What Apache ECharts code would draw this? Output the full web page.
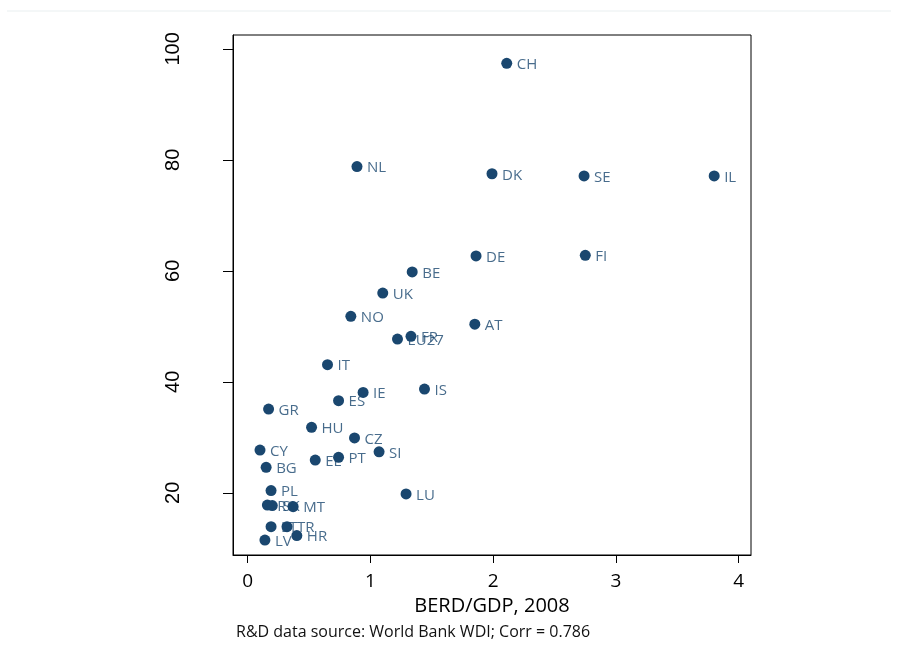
<!DOCTYPE html>
<html>
<head>
<meta charset="utf-8">
<script src="https://cdn.jsdelivr.net/npm/echarts@6/dist/echarts.min.js"></script>
<style>
  html, body { margin: 0; padding: 0; background: #fff; }
  #chart { width: 898px; height: 661px; }
</style>
</head>
<body>
<div id="chart"></div>
<script>
const NAVY = '#1a476f';

// country codes, BERD/GDP 2008 (x) and the unlabelled y value
const codes = ['CH', 'NL', 'DK', 'SE', 'IL', 'DE', 'FI', 'BE', 'UK', 'NO', 'AT', 'FR', 'EU27', 'IT', 'IE', 'IS', 'ES', 'GR',
  'HU', 'CZ', 'CY', 'SI', 'PT', 'EE', 'BG', 'PL', 'LU', 'RO', 'SK', 'MT', 'LT', 'TR', 'HR', 'LV'];
const berdGdp = [2.11, 0.89, 1.99, 2.74, 3.80, 1.86, 2.75, 1.34, 1.10, 0.84, 1.85, 1.33, 1.22, 0.65, 0.94, 1.44, 0.74, 0.17,
  0.52, 0.87, 0.10, 1.07, 0.74, 0.55, 0.15, 0.19, 1.29, 0.16, 0.20, 0.37, 0.19, 0.32, 0.40, 0.14];
const yScore = [97.4, 78.8, 77.5, 77.1, 77.1, 62.7, 62.8, 59.8, 56.0, 51.8, 50.4, 48.2, 47.7, 43.1, 38.1, 38.7, 36.6, 35.1,
  31.8, 29.9, 27.7, 27.4, 26.4, 25.9, 24.6, 20.4, 19.8, 17.8, 17.7, 17.5, 13.9, 13.9, 12.3, 11.5];

const xTicks = [0, 1, 2, 3, 4];
const yTicks = [20, 40, 60, 80, 100];

const points = codes.map((c, i) => ({ name: c, value: [berdGdp[i], yScore[i]] }));

const chart = echarts.init(document.getElementById('chart'), null, { renderer: 'canvas' });

chart.setOption({
  animation: false,
  backgroundColor: '#fff',
  grid: {
    left: 233,
    top: 35,
    right: 147,
    bottom: 106,
    show: true,
    borderColor: '#000',
    borderWidth: 1,
    backgroundColor: 'transparent',
  },
  title: {
    text: 'R&D data source: World Bank WDI; Corr = 0.786',
    left: 236,
    top: 624,
    padding: 0,
    textStyle: { fontFamily: 'Open Sans', fontSize: 16, fontWeight: 'normal', color: '#111' },
  },
  graphic: [
    {
      type: 'line',
      shape: { x1: 7, y1: 11, x2: 891, y2: 11 },
      style: { stroke: '#e9eff0', lineWidth: 1 },
      silent: true,
    },
  ],
  xAxis: {
    type: 'value',
    min: -0.12,
    max: 4.1,
    name: 'BERD/GDP, 2008',
    nameLocation: 'middle',
    nameGap: 33,
    nameTextStyle: { fontFamily: 'Open Sans', fontSize: 20, color: '#000' },
    splitLine: { show: false },
    axisLine: { show: true, onZero: false, lineStyle: { color: '#000', width: 1 } },
    axisTick: { show: true, length: 8, customValues: xTicks, lineStyle: { color: '#000' } },
    axisLabel: {
      customValues: xTicks,
      margin: 17,
      fontFamily: 'Open Sans',
      fontSize: 19,
      color: '#000',
    },
  },
  yAxis: {
    type: 'value',
    min: 8.8,
    max: 102.5,
    splitLine: { show: false },
    axisLine: { show: true, onZero: false, lineStyle: { color: '#000', width: 1 } },
    axisTick: { show: true, length: 10, customValues: yTicks, lineStyle: { color: '#000' } },
    axisLabel: {
      customValues: yTicks,
      rotate: 90,
      margin: 50,
      fontFamily: 'Liberation Sans',
      fontSize: 20,
      color: '#000',
    },
  },
  series: [
    {
      // labels underneath the markers, as in the original
      name: 'labels',
      type: 'scatter',
      z: 1,
      symbolSize: 0,
      data: points,
      label: {
        show: true,
        position: 'right',
        distance: 10,
        offset: [0, 1.5],
        formatter: p => p.name,
        fontFamily: 'Open Sans',
        fontSize: 15,
        color: NAVY,
      },
    },
    {
      name: 'markers',
      type: 'scatter',
      z: 3,
      symbol: 'circle',
      symbolSize: 11,
      itemStyle: { color: NAVY, opacity: 1 },
      data: points,
      label: { show: false },
    },
  ],
});
</script>
</body>
</html>
